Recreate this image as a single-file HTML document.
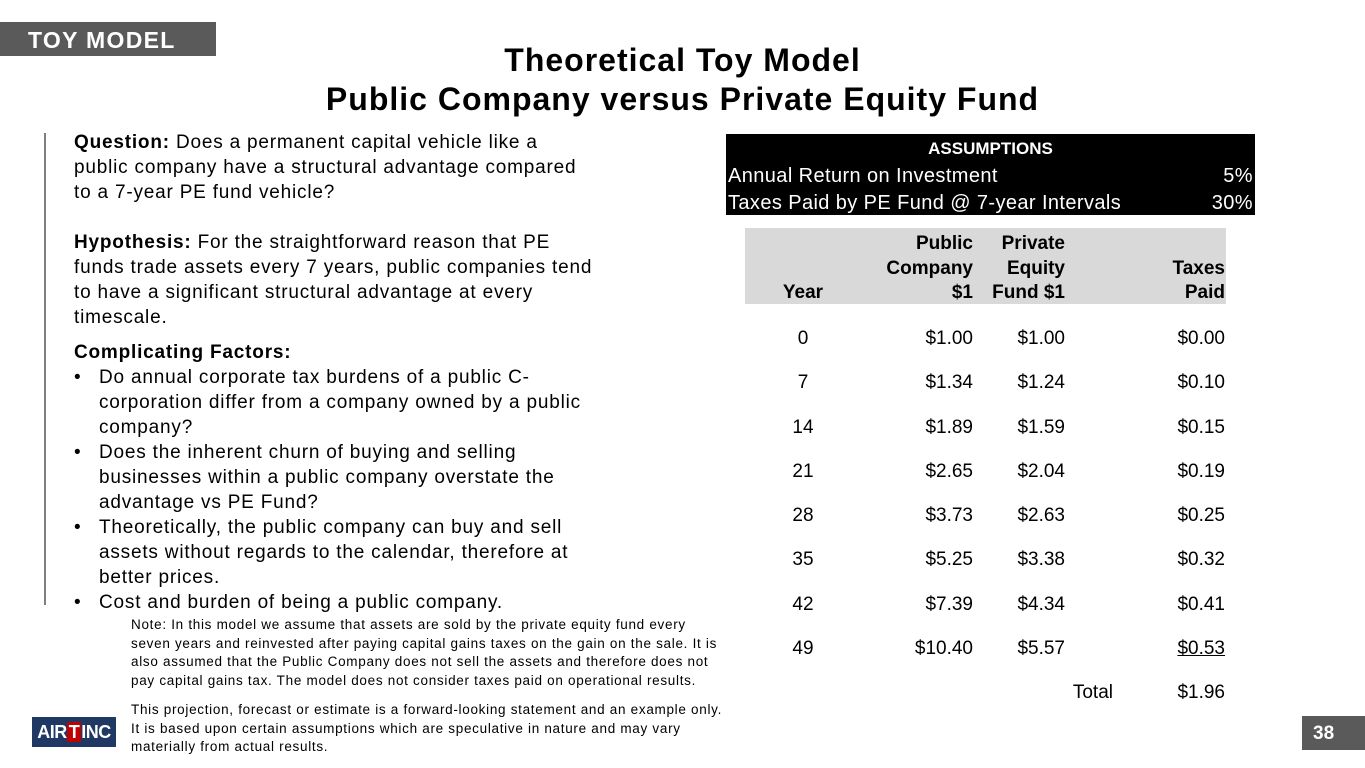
<!DOCTYPE html>
<html><head><meta charset="utf-8"><style>
body{margin:0;width:1365px;height:768px;background:#fff;position:relative;overflow:hidden;font-family:"Liberation Sans",Arial,sans-serif;color:#000}
.a{position:absolute;white-space:nowrap}
.t{font-size:19px;line-height:25px}
.r{text-align:right}
.c{text-align:center}
.n{font-size:13.5px;line-height:18.5px;letter-spacing:0.7px}
</style></head><body>
<div class="a" style="left:0;top:22px;width:216px;height:34px;background:#5a5a5a;color:#fff;font-weight:bold;font-size:23px;line-height:36px;letter-spacing:1.3px"><span style="padding-left:28px">TOY MODEL</span></div>
<div class="a c" style="left:0;width:1365px;top:41px;font-weight:bold;font-size:32px;line-height:39px;letter-spacing:1px">Theoretical Toy Model<br>Public Company versus Private Equity Fund</div>
<div class="a" style="left:44px;top:133px;width:2px;height:472px;background:#7f7f7f"></div>
<div class="a t" style="left:74px;top:130px;letter-spacing:0.8px">
<b>Question:</b> Does a permanent capital vehicle like a<br>public company have a structural advantage compared<br>to a 7-year PE fund vehicle?<br><br>
<b>Hypothesis:</b> For the straightforward reason that PE<br>funds trade assets every 7 years, public companies tend<br>to have a significant structural advantage at every<br>timescale.<br>
<div style="margin-top:10px"><b>Complicating Factors:</b></div>
<div style="position:relative;padding-left:25px"><span style="position:absolute;left:0">•</span>Do annual corporate tax burdens of a public C-<br>corporation differ from a company owned by a public<br>company?</div>
<div style="position:relative;padding-left:25px"><span style="position:absolute;left:0">•</span>Does the inherent churn of buying and selling<br>businesses within a public company overstate the<br>advantage vs PE Fund?</div>
<div style="position:relative;padding-left:25px"><span style="position:absolute;left:0">•</span>Theoretically, the public company can buy and sell<br>assets without regards to the calendar, therefore at<br>better prices.</div>
<div style="position:relative;padding-left:25px"><span style="position:absolute;left:0">•</span>Cost and burden of being a public company.</div>
</div>
<div class="a n" style="left:131px;top:616px">Note: In this model we assume that assets are sold by the private equity fund every<br>seven years and reinvested after paying capital gains taxes on the gain on the sale. It is<br>also assumed that the Public Company does not sell the assets and therefore does not<br>pay capital gains tax. The model does not consider taxes paid on operational results.</div>
<div class="a n" style="left:131px;top:701px">This projection, forecast or estimate is a forward-looking statement and an example only.<br>It is based upon certain assumptions which are speculative in nature and may vary<br>materially from actual results.</div>
<div class="a" style="left:32px;top:717px;width:84px;height:30px;background:#1f3864;color:#fff;font-weight:bold;font-size:18px;line-height:31px;text-align:center;letter-spacing:-0.5px">AIR<span style="background:#c00000;padding:0 2px">T</span>INC</div>
<div class="a" style="left:1302px;top:716px;width:63px;height:34px;background:#5a5a5a;color:#fff;font-weight:bold;font-size:19px;line-height:35px"><span style="padding-left:11px">38</span></div>
<div class="a" style="left:726px;top:134px;width:529px;height:81px;background:#000;color:#fff;font-size:20px">
<div class="c" style="font-weight:bold;font-size:17px;line-height:29px">ASSUMPTIONS</div>
<div style="line-height:27px;padding:0 2px;letter-spacing:0.4px">Annual Return on Investment<span style="float:right">5%</span></div>
<div style="line-height:27px;padding:0 2px;letter-spacing:0.4px">Taxes Paid by PE Fund @ 7-year Intervals<span style="float:right">30%</span></div>
</div>
<div class="a" style="left:745px;top:228px;width:481px;height:76px;background:#d9d9d9"></div>
<div class="a t" style="left:745px;top:232px;width:481px;font-weight:bold;line-height:24.5px">
<div class="a c" style="left:35px;top:49px;width:46px">Year</div>
<div class="a r" style="left:100px;width:128px;top:0">Public<br>Company<br>$1</div>
<div class="a r" style="left:200px;width:120px;top:0">Private<br>Equity<br>Fund $1</div>
<div class="a r" style="left:380px;width:100px;top:24.5px">Taxes<br>Paid</div>
</div>
<div class="a t" style="left:745px;top:317px;width:481px;line-height:44.3px">
<div class="a c" style="left:28px;width:60px;top:0">0<br>7<br>14<br>21<br>28<br>35<br>42<br>49</div>
<div class="a r" style="left:100px;width:128px;top:0">$1.00<br>$1.34<br>$1.89<br>$2.65<br>$3.73<br>$5.25<br>$7.39<br>$10.40</div>
<div class="a r" style="left:200px;width:120px;top:0">$1.00<br>$1.24<br>$1.59<br>$2.04<br>$2.63<br>$3.38<br>$4.34<br>$5.57</div>
<div class="a r" style="left:380px;width:100px;top:0">$0.00<br>$0.10<br>$0.15<br>$0.19<br>$0.25<br>$0.32<br>$0.41<br><u>$0.53</u><br>$1.96</div>
<div class="a r" style="left:280px;width:88px;top:354px">Total</div>
</div>
</body></html>
